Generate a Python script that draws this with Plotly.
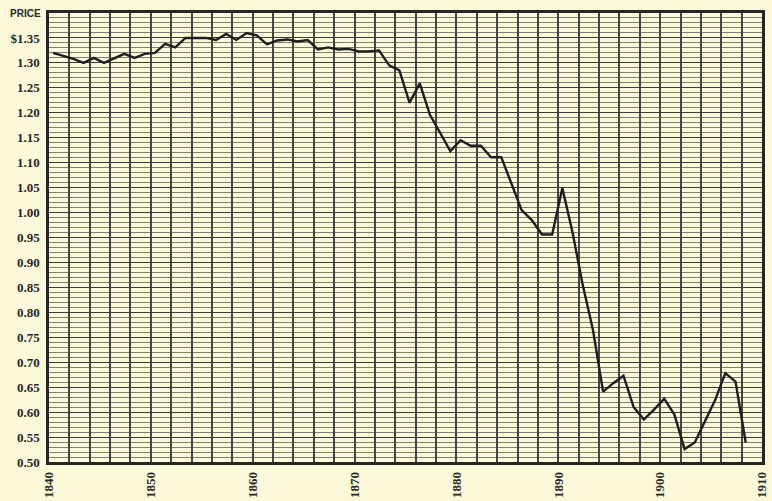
import plotly.graph_objects as go

years = list(range(1840, 1909))
price = [1.320, 1.314, 1.308, 1.300, 1.310, 1.300, 1.309, 1.318, 1.310, 1.318,
         1.320, 1.338, 1.331, 1.350, 1.350, 1.350, 1.346, 1.358, 1.346, 1.360,
         1.355, 1.337, 1.345, 1.347, 1.343, 1.346, 1.327, 1.331, 1.327, 1.328,
         1.323, 1.323, 1.325, 1.295, 1.285, 1.220, 1.259, 1.196, 1.160, 1.123,
         1.145, 1.134, 1.134, 1.111, 1.111, 1.058, 1.005, 0.985, 0.956, 0.956,
         1.049, 0.960, 0.855, 0.765, 0.641, 0.658, 0.673, 0.610, 0.585, 0.605,
         0.627, 0.595, 0.526, 0.539, 0.580, 0.624, 0.678, 0.661, 0.539]

x_tick_years = list(range(1840, 1911, 2))
x_tick_text = [str(y) if y % 10 == 0 else "" for y in x_tick_years]
y_tick_vals = [round(0.50 + 0.05 * i, 2) for i in range(18)]
y_tick_text = ["$1.35" if v == 1.35 else f"{v:.2f}" for v in y_tick_vals]

bg = "#FCF9DA"
ink = "#262626"

fig = go.Figure()
fig.add_trace(go.Scatter(
    x=[y + 0.4 for y in years], y=price, mode="lines",
    line=dict(color="#1e1e1e", width=2.4), hoverinfo="skip", showlegend=False))

fig.update_layout(
    width=772, height=501,
    margin=dict(l=49, r=3, t=13, b=34),
    paper_bgcolor=bg, plot_bgcolor=bg,
    xaxis=dict(
        range=[1840, 1910], tickmode="array", tickvals=x_tick_years,
        ticktext=x_tick_text, tickangle=-90, ticks="", ticklabelstandoff=2,
        ticklabeloverflow="allow",
        tickfont=dict(family="Liberation Serif", size=13, color=ink, weight="bold"),
        showgrid=True, gridcolor="#444440", gridwidth=1.5,
        showline=True, linecolor=ink, linewidth=2.5, mirror=True, zeroline=False),
    yaxis=dict(
        range=[0.5, 1.40], tickmode="array", tickvals=y_tick_vals,
        ticktext=y_tick_text, ticks="", ticklabelstandoff=4,
        tickfont=dict(family="Liberation Serif", size=13, color=ink, weight="bold"),
        showgrid=True, gridcolor="#3a3a36", gridwidth=1.4,
        minor=dict(dtick=0.01, tick0=0.5, showgrid=True, gridcolor="#7e7e72", gridwidth=1),
        showline=True, linecolor=ink, linewidth=2.5, mirror=True, zeroline=False),
)

fig.add_annotation(
    text="PRICE", xref="paper", yref="paper", x=-0.009, y=1.0,
    xanchor="right", yanchor="middle", showarrow=False,
    font=dict(family="Liberation Sans", size=10, color=ink, weight="bold"))

fig.write_html("out.html", config={"displayModeBar": False},
               post_script="document.body.style.margin='0';")
